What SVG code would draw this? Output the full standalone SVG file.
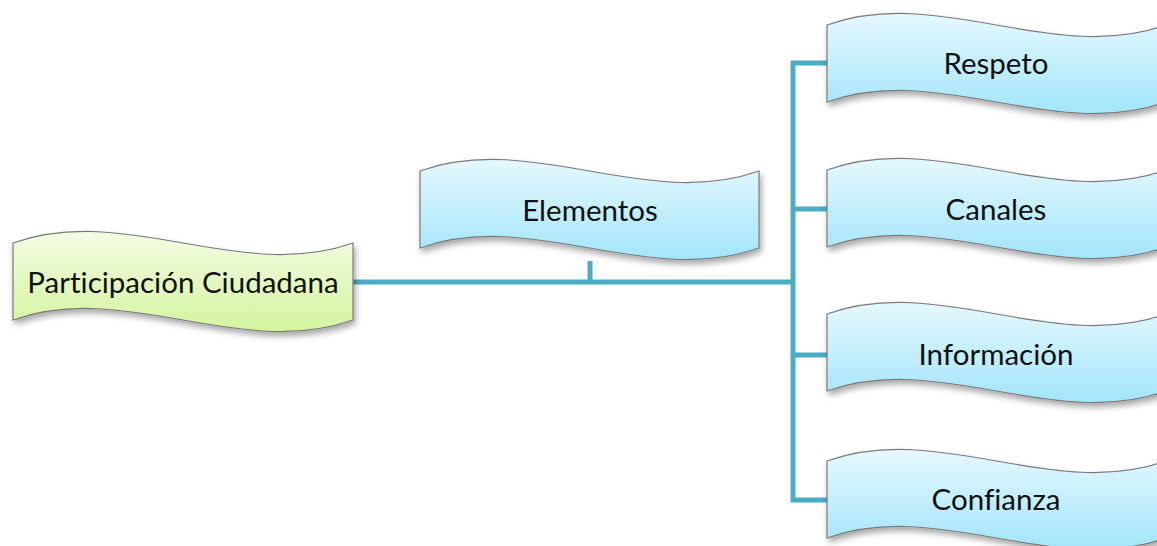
<svg xmlns="http://www.w3.org/2000/svg" xmlns:xlink="http://www.w3.org/1999/xlink" width="1157" height="546" viewBox="0 0 1157 546">
<style>
.lbl{font-family:Lato,"Liberation Sans",sans-serif;font-size:29.5px;fill:#111;text-anchor:middle;font-variant-ligatures:none}
.conn{fill:none;stroke:#4BACC6;stroke-width:5;stroke-linecap:butt;stroke-linejoin:miter}
.shape{stroke:#7a7a7a;stroke-width:1.2;filter:url(#sh)}
</style>
<defs>
<linearGradient id="gBlue" x1="0" y1="0" x2="0" y2="1">
<stop offset="0" stop-color="#E6F8FE"/>
<stop offset="1" stop-color="#A2E5FA"/>
</linearGradient>
<linearGradient id="gGreen" x1="0" y1="0" x2="0" y2="1">
<stop offset="0" stop-color="#F3FCE4"/>
<stop offset="1" stop-color="#D4F49E"/>
</linearGradient>
<filter id="sh" x="-10%" y="-20%" width="125%" height="150%">
<feDropShadow dx="2" dy="4" stdDeviation="3" flood-color="#000" flood-opacity="0.35"/>
</filter>
<path id="wave" d="M0,0 C113,-40 226,40 339,0 L339,77 C226,117 113,37 0,77 Z"/>
</defs>
<g id="connectors">
<path class="conn" d="M353,282 H793"/>
<path class="conn" d="M590,282 V261"/>
<path class="conn" d="M827,63 H793 V500 H827"/>
<path class="conn" d="M793,209 H827"/>
<path class="conn" d="M793,355 H827"/>
</g>
<g id="participacion">
<use xlink:href="#wave" href="#wave" class="shape" fill="url(#gGreen)" transform="translate(13,243) scale(1.003,1)"/>
<text class="lbl" x="183" y="293">Participación Ciudadana</text>
</g>
<g id="elementos">
<use xlink:href="#wave" href="#wave" class="shape" fill="url(#gBlue)" transform="translate(420,171)"/>
<text class="lbl" x="590" y="221">Elementos</text>
</g>
<g id="respeto">
<use xlink:href="#wave" href="#wave" class="shape" fill="url(#gBlue)" transform="translate(827,25)"/>
<text class="lbl" x="996" y="74">Respeto</text>
</g>
<g id="canales">
<use xlink:href="#wave" href="#wave" class="shape" fill="url(#gBlue)" transform="translate(827,170)"/>
<text class="lbl" x="996" y="220">Canales</text>
</g>
<g id="informacion">
<use xlink:href="#wave" href="#wave" class="shape" fill="url(#gBlue)" transform="translate(827,314)"/>
<text class="lbl" x="996" y="365">Información</text>
</g>
<g id="confianza">
<use xlink:href="#wave" href="#wave" class="shape" fill="url(#gBlue)" transform="translate(827,461)"/>
<text class="lbl" x="996" y="510">Confianza</text>
</g>
</svg>
